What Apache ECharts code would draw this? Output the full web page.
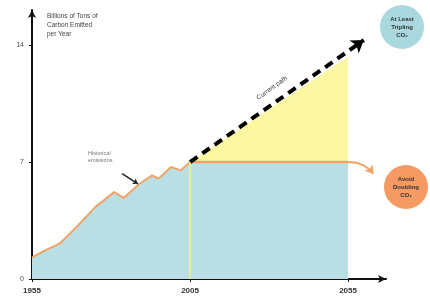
<!DOCTYPE html>
<html>
<head>
<meta charset="utf-8">
<script src="https://cdn.jsdelivr.net/npm/echarts@6/dist/echarts.min.js"></script>
<style>
  html, body { margin: 0; padding: 0; background: #fff; }
  #chart { width: 430px; height: 302px; }
</style>
</head>
<body>
<div id="chart"></div>
<script>
// historical emissions (year, billions of tons of carbon per year)
const histYears = [1955, 1959, 1964, 1969, 1975, 1981, 1984, 1989, 1993, 1995, 1999, 2002, 2005];
const histValues = [1.3, 1.7, 2.15, 3.1, 4.3, 5.2, 4.85, 5.7, 6.2, 6.0, 6.7, 6.5, 7.0];
// flat path and its continuation
const flatYears = [2005, 2055];
const flatValues = [7, 7];
const flatTailYears = [2055, 2063];
const flatTailValues = [7, 6.3];
// current (projected) path and stabilization triangle
const currentYears = [2005, 2060];
const currentValues = [7, 14.3];
const triangleYears = [2005, 2055];
const triangleValues = [7, 13.3];
const yTicks = [0, 7, 14];

const zip = (xs, ys) => xs.map((x, i) => [x, ys[i]]);

const chart = echarts.init(document.getElementById('chart'));
const font = 'Liberation Sans';

chart.setOption({
  animation: false,
  grid: { left: 32, right: 44, top: 10, bottom: 23 },
  xAxis: {
    type: 'value', min: 1955, max: 2067, interval: 50,
    axisLine: { lineStyle: { color: '#111', width: 2 }, symbol: ['none', 'arrow'], symbolSize: [6, 8] },
    axisTick: { show: true, length: 3, lineStyle: { color: '#111' } },
    splitLine: { show: false },
    axisLabel: { showMaxLabel: false, color: '#333', fontSize: 8, fontWeight: 'bold', fontFamily: font, margin: 8,
      formatter: v => String(v) }
  },
  yAxis: {
    type: 'value', min: 0, max: 16.1, interval: 7,
    axisLine: { show: true, lineStyle: { color: '#111', width: 2 }, symbol: ['none', 'arrow'], symbolSize: [6, 8] },
    axisTick: { show: true, length: 3, lineStyle: { color: '#111' } },
    splitLine: { show: false },
    axisLabel: { showMaxLabel: false, color: '#555', fontSize: 7, fontFamily: font, margin: 8,
      formatter: v => yTicks.includes(v) ? String(v) : '' }
  },
  series: [
    {
      type: 'line', z: 1, data: zip(triangleYears, triangleValues),
      symbol: 'none', lineStyle: { width: 0 },
      areaStyle: { color: '#fbf7a2', opacity: 1 }
    },
    {
      type: 'line', z: 2, data: zip(histYears, histValues),
      symbol: 'none', lineStyle: { color: '#f0a468', width: 2 },
      areaStyle: { color: '#b9dfe4', opacity: 1 }
    },
    {
      type: 'line', z: 2, data: zip(flatYears, flatValues),
      symbol: 'none', lineStyle: { color: '#f0a468', width: 2.5 },
      areaStyle: { color: '#b9dfe4', opacity: 1 },
      markLine: {
        silent: true, symbol: 'none', label: { show: false },
        lineStyle: { color: '#f6f08a', type: 'solid', width: 1.5 },
        data: [[{ coord: [2005, 0] }, { coord: [2005, 7] }]]
      }
    },
    {
      type: 'lines', coordinateSystem: 'cartesian2d', z: 3,
      symbol: ['none', 'arrow'], symbolSize: 8,
      lineStyle: { color: '#f0a468', width: 2, opacity: 1, curveness: 0.25 },
      data: [{ coords: zip(flatTailYears, flatTailValues) }]
    },
    {
      type: 'lines', coordinateSystem: 'cartesian2d', z: 4,
      symbol: ['none', 'arrow'], symbolSize: 12,
      lineStyle: { color: '#000', width: 4, type: [9, 6], opacity: 1 },
      data: [{ coords: zip(currentYears, currentValues) }]
    },
    {
      type: 'lines', coordinateSystem: 'cartesian2d', z: 4,
      symbol: ['none', 'arrow'], symbolSize: 5,
      lineStyle: { color: '#222', width: 1.5, opacity: 1 },
      data: [{ coords: [[1983.5, 6.3], [1988.5, 5.7]] }]
    }
  ],
  graphic: [
    { type: 'text', left: 47, top: 12, style: { text: 'Billions of Tons of\nCarbon Emitted\nper Year', fontSize: 6.5, lineHeight: 9, fill: '#444', fontFamily: font } },
    { type: 'text', left: 88, top: 150, style: { text: 'Historical\nemissions', fontSize: 5.5, lineHeight: 7, fill: '#777', fontFamily: font } },
    { type: 'text', x: 272, y: 88, rotation: 0.62, style: { text: 'Current path', fontSize: 6.5, fill: '#333', fontFamily: font, align: 'center', verticalAlign: 'middle' } },
    { type: 'text', x: 283, y: 136, style: { text: 'Stabilization\nTriangle', fontSize: 8, lineHeight: 11, fill: '#555', fontFamily: font, align: 'center', verticalAlign: 'middle' } },
    { type: 'text', x: 270, y: 171, style: { text: 'Flat path', fontSize: 6.5, fill: '#2a4a50', fontFamily: font, align: 'center', verticalAlign: 'middle' } },
    { type: 'circle', shape: { cx: 402, cy: 27, r: 22 }, style: { fill: '#a9d8df' } },
    { type: 'text', x: 402, y: 27, style: { text: 'At Least\nTripling\nCO₂', fontSize: 6, lineHeight: 8, fontWeight: 'bold', fill: '#333', fontFamily: font, align: 'center', verticalAlign: 'middle' } },
    { type: 'circle', shape: { cx: 406, cy: 187, r: 22 }, style: { fill: '#f59a62' } },
    { type: 'text', x: 406, y: 187, style: { text: 'Avoid\nDoubling\nCO₂', fontSize: 6, lineHeight: 8, fontWeight: 'bold', fill: '#333', fontFamily: font, align: 'center', verticalAlign: 'middle' } }
  ]
});
</script>
</body>
</html>
